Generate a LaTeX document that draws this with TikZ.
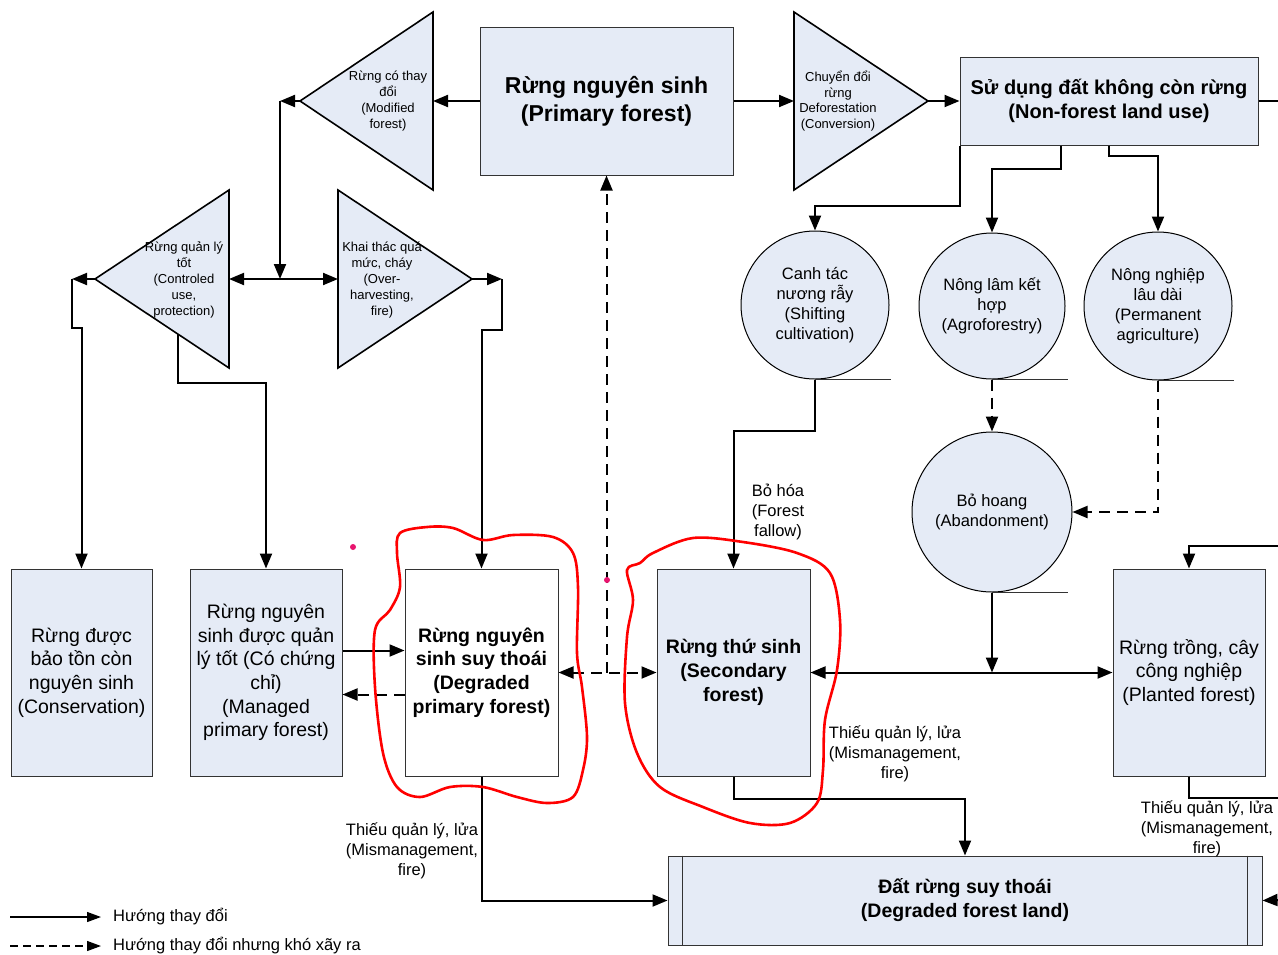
\documentclass[tikz,border=0pt]{standalone}
\usepackage{fontspec}
\setmainfont{Liberation Sans}
\usepackage{xcolor}
\usetikzlibrary{arrows.meta}

\definecolor{paleblue}{RGB}{229,235,246}
\definecolor{pinkdot}{RGB}{232,20,110}

\tikzset{
  flow/.style={line width=2pt, -{Triangle[length=15pt,width=12pt]}},
  hard/.style={flow, dash pattern=on 11pt off 7pt},
  twoway/.style={line width=2pt, {Triangle[length=15pt,width=12pt]}-{Triangle[length=15pt,width=12pt]}},
  box/.style={draw=black!80, line width=1pt, fill=paleblue, align=center, inner sep=0pt,
    font=\fontsize{19.5}{23.7}\selectfont},
  boldbox/.style={box, font=\fontsize{19.5}{23.7}\selectfont\bfseries},
  wedge/.style={draw, line width=1.6pt, fill=paleblue, line join=miter},
  wedgetext/.style={align=center, inner sep=0pt, font=\fontsize{13}{15.8}\selectfont},
  landuse/.style={circle, draw, line width=1pt, fill=paleblue, align=center, inner sep=0pt,
    font=\fontsize{16.5}{20}\selectfont},
  note/.style={align=center, inner sep=0pt, font=\fontsize{16.5}{20}\selectfont},
  scribble/.style={draw=red, line width=2.6pt, line join=round}
}

\begin{document}
\begin{tikzpicture}[x=1pt,y=-1pt]
                \useasboundingbox (0,0) rectangle (1278,954);

                %boxes
                \node[boldbox, minimum width=253, minimum height=148, font=\fontsize{23}{28}\selectfont\bfseries]
                    (primary) at (606.5,101) {Rừng nguyên sinh\\(Primary forest)};
                \node[boldbox, minimum width=298, minimum height=88, font=\fontsize{20}{24}\selectfont\bfseries]
                    (nonforest) at (1109,101) {Sử dụng đất không còn rừng\\(Non-forest land use)};
                \node[box, minimum width=141, minimum height=207] (conserv) at (81.5,672.5)
                    {Rừng được\\bảo tồn còn\\nguyên sinh\\(Conservation)};
                \node[box, minimum width=152, minimum height=207] (managed) at (266,672.5)
                    {Rừng nguyên\\sinh được quản\\lý tốt (Có chứng\\chỉ)\\(Managed\\primary forest)};
                \node[boldbox, fill=white, minimum width=153, minimum height=207] (degraded) at (481.5,672.5)
                    {Rừng nguyên\\sinh suy thoái\\(Degraded\\primary forest)};
                \node[boldbox, minimum width=153, minimum height=207] (secondary) at (733.5,672.5)
                    {Rừng thứ sinh\\(Secondary\\forest)};
                \node[box, minimum width=152, minimum height=207] (planted) at (1189,672.5)
                    {Rừng trồng, cây\\công nghiệp\\(Planted forest)};
                \node[boldbox, minimum width=594, minimum height=89, font=\fontsize{19.5}{24}\selectfont\bfseries]
                    (landdeg) at (965,900.5) {Đất rừng suy thoái\\(Degraded forest land)};
                \draw[draw=black!80, line width=1pt] ([xshift=15]landdeg.north west) -- ([xshift=15]landdeg.south west);
                \draw[draw=black!80, line width=1pt] ([xshift=-15]landdeg.north east) -- ([xshift=-15]landdeg.south east);

                %triangles
                \draw[wedge] (300,101) -- (433,12) -- (433,190) -- cycle;
                \coordinate (modTip) at (300,101);
                \coordinate (modBase) at (433,101);
                \node[wedgetext] (modified) at (388,101) {Rừng có thay\\đổi\\(Modified\\forest)};

                \draw[wedge] (95,279) -- (229,190) -- (229,368) -- cycle;
                \coordinate (ctrlTip) at (95,279);
                \coordinate (ctrlBase) at (229,279);
                \coordinate (ctrlLow) at (178,334);
                \node[wedgetext] (controlled) at (184,280) {Rừng quản lý\\tốt\\(Controled\\use,\\protection)};

                \draw[wedge] (472,279) -- (338,190) -- (338,368) -- cycle;
                \coordinate (overTip) at (472,279);
                \coordinate (overBase) at (338,279);
                \node[wedgetext] (overharv) at (382,280) {Khai thác quá\\mức, cháy\\(Over-\\harvesting,\\fire)};

                \draw[wedge] (928,101) -- (794,12) -- (794,190) -- cycle;
                \coordinate (defTip) at (928,101);
                \coordinate (defBase) at (794,101);
                \node[wedgetext] (deforest) at (838,101) {Chuyển đổi\\rừng\\Deforestation\\(Conversion)};

                %circles
                \node[landuse, minimum size=148] (shifting) at (815,305) {Canh tác\\nương rẫy\\(Shifting\\cultivation)};
                \node[landuse, minimum size=146] (agro) at (992,306) {Nông lâm kết\\hợp\\(Agroforestry)};
                \node[landuse, minimum size=148] (perm) at (1158,306) {Nông nghiệp\\lâu dài\\(Permanent\\agriculture)};
                \node[landuse, minimum size=160] (aband) at (992,512) {Bỏ hoang\\(Abandonment)};
                \foreach \c in {shifting,agro,perm,aband}
                \draw[line width=0.9pt, black!80] (\c.south) -- ++(76,0);

                % free ends
                \coordinate (modOut) at (280,101);
                \coordinate (split) at (280,279);
                \coordinate (ctrlOut) at (72,279);
                \coordinate (overOut) at (502,279);
                \coordinate (edgeA) at (1278,101);
                \coordinate (edgeB) at (1278,546);
                \coordinate (edgeC) at (1278,798);
                \coordinate (edgeD) at (1278,900);

                %connectors, top
                \draw[flow] (primary.west) -- (modBase);
                \draw[flow] (modTip) -- (modOut);
                \draw[flow] (modOut) -- (split);
                \draw[twoway] (ctrlBase) -- (overBase);
                \draw[flow] (ctrlTip) -- (ctrlOut);
                \draw[flow] (ctrlOut) -- ++(0,49) -| (conserv.north);
                \draw[flow] (ctrlLow) -- ++(0,49) -| (managed.north);
                \draw[flow] (overTip) -- (overOut);
                \draw[flow] (overOut) -- ++(0,51) -| (degraded.north);
                \draw[flow] (primary.east) -- (defBase);
                \draw[flow] (defTip) -- (nonforest.west);
                \draw[line width=2pt] (nonforest.east) -- (edgeA);

                %connectors, land use
                \draw[flow] (nonforest.south west) -- ++(0,60) -| (shifting.north);
                \draw[flow] ([xshift=-48]nonforest.south) -- ++(0,23) -| (agro.north);
                \draw[flow] (nonforest.south) -- ++(0,10) -| (perm.north);
                \draw[flow] (shifting.south) -- ++(0,51) -| (secondary.north);
                    \node[note] (fallow) at (778,512) {Bỏ hóa\\(Forest\\fallow)};
                \draw[hard] (agro.south) -- (aband.north);
                \draw[hard] (perm.south) |- (aband.east);
                \draw[flow] (aband.south) -- (aband.south |- secondary.east);

                %connectors, forests
                \draw[twoway] (secondary.east) -- (planted.west);
                \draw[hard] (primary.south |- degraded.east) -- (primary.south);
                \draw[twoway, dash pattern=on 11pt off 7pt] (degraded.east) -- (secondary.west);
                \draw[flow] ([yshift=22]managed.east) -- ([yshift=22]degraded.west);
                \draw[hard] ([yshift=-22]degraded.west) -- ([yshift=-22]managed.east);
                \draw[flow] (edgeB) -| (planted.north);

                %connectors, degraded land
                \draw[flow] (degraded.south) |- (landdeg.west);
                    \node[note] (misA) at (412,851) {Thiếu quản lý, lửa\\(Mismanagement,\\fire)};
                \draw[flow] (secondary.south) -- ++(0,22) -| (landdeg.north);
                    \node[note] (misB) at (895,754) {Thiếu quản lý, lửa\\(Mismanagement,\\fire)};
                \draw[line width=2pt] (planted.south) |- (edgeC);
                    \node[note] (misC) at (1207,829) {Thiếu quản lý, lửa\\(Mismanagement,\\fire)};
                \draw[flow] (edgeD) -- (landdeg.east);

                %legend
                \coordinate (legA) at (10,917);
                \coordinate (legB) at (101,917);
                \coordinate (legC) at (10,946);
                \coordinate (legD) at (101,946);
                \draw[line width=1.2pt, -{Triangle[length=14pt,width=10pt]}] (legA) -- (legB);
                \draw[line width=1.2pt, dash pattern=on 8pt off 5pt, -{Triangle[length=14pt,width=10pt]}] (legC) -- (legD);
                \node[note, anchor=west] (legsolid) at (113,917) {Hướng thay đổi};
                \node[note, anchor=west] (legdash) at (113,946) {Hướng thay đổi nhưng khó xãy ra};

                %red marks
                \draw[scribble] plot[smooth cycle, tension=0.55] coordinates {
                    (400,533) (427,527) (453,528) (483,540) (513,535) (553,537) (573,553) (578,587)
                    (577,653) (582,687) (587,737) (583,770) (573,797) (547,803) (517,797) (483,787)
                    (450,787) (420,797) (397,787) (383,753) (375,687) (375,630) (390,610) (400,587) (397,553)};
                \draw[scribble] plot[smooth cycle, tension=0.55] coordinates {
                    (640,563) (653,553) (693,538) (743,542) (797,553) (830,573) (840,620) (837,670)
                    (825,720) (823,770) (817,803) (790,823) (750,823) (703,807) (660,787) (637,753)
                    (625,703) (627,637) (633,600) (627,570)};
                \fill[pinkdot] (353,547) circle (3);
                \fill[pinkdot] (607,580) circle (3);

\end{tikzpicture}
\end{document}
